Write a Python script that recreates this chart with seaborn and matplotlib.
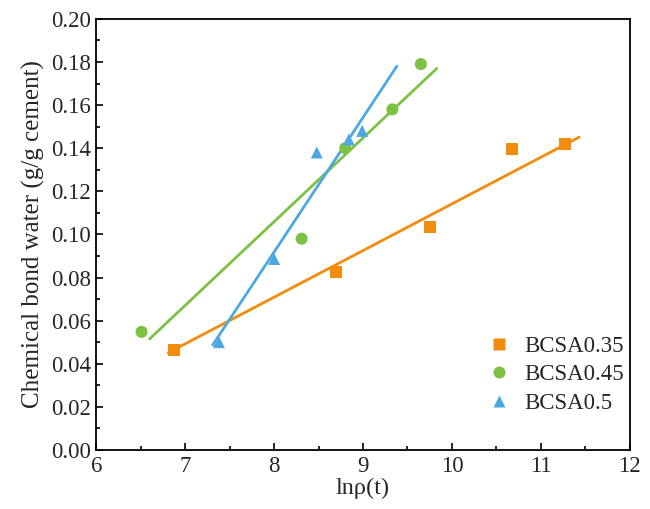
import pandas as pd
import matplotlib
matplotlib.use("Agg")
import matplotlib.pyplot as plt
from matplotlib.ticker import MultipleLocator, FormatStrFormatter
import seaborn as sns

# data
series_names = ["BCSA0.35", "BCSA0.45", "BCSA0.5"]
x_035 = [6.88, 8.70, 9.75, 10.68, 11.27]
y_035 = [0.0464, 0.0827, 0.1036, 0.1397, 0.142]
x_045 = [6.51, 8.31, 8.80, 9.33, 9.65]
y_045 = [0.0548, 0.098, 0.140, 0.158, 0.179]
x_05 = [7.38, 8.00, 8.48, 8.84, 8.99]
y_05 = [0.050, 0.0886, 0.138, 0.144, 0.148]

# end points of the fitted lines
fit_x_035 = [6.81, 11.43]
fit_y_035 = [0.0451, 0.1451]
fit_x_045 = [6.60, 9.83]
fit_y_045 = [0.0515, 0.177]
fit_x_05 = [7.31, 9.38]
fit_y_05 = [0.0487, 0.178]

colors = {"BCSA0.35": "#F28C0C", "BCSA0.45": "#7DC142", "BCSA0.5": "#4DA8E2"}
markers = {"BCSA0.35": "s", "BCSA0.45": "o", "BCSA0.5": "^"}

df = pd.DataFrame({
    "x": x_035 + x_045 + x_05,
    "y": y_035 + y_045 + y_05,
    "series": [series_names[0]] * 5 + [series_names[1]] * 5 + [series_names[2]] * 5,
})
fits = pd.DataFrame({
    "x": fit_x_035 + fit_x_045 + fit_x_05,
    "y": fit_y_035 + fit_y_045 + fit_y_05,
    "series": [series_names[0]] * 2 + [series_names[1]] * 2 + [series_names[2]] * 2,
})

sns.set_style("ticks")
plt.rcParams["font.family"] = ["Liberation Serif", "DejaVu Serif"]

fig = plt.figure(figsize=(6.5, 5.09), dpi=100)
ax = fig.add_axes([0.148, 0.116, 0.821, 0.847])

sns.lineplot(data=fits, x="x", y="y", hue="series", palette=colors, lw=2,
             ax=ax, legend=False)
sns.scatterplot(data=df, x="x", y="y", hue="series", style="series",
                palette=colors, markers=markers, s=75, edgecolor="none",
                ax=ax, zorder=3)

ax.set_xlim(6, 12)
ax.set_ylim(0, 0.20)
ax.xaxis.set_major_locator(MultipleLocator(1))
ax.xaxis.set_minor_locator(MultipleLocator(0.5))
ax.yaxis.set_major_locator(MultipleLocator(0.02))
ax.yaxis.set_minor_locator(MultipleLocator(0.01))
ax.yaxis.set_major_formatter(FormatStrFormatter("%.2f"))
ax.tick_params(which="both", direction="in", top=False, right=False,
               labelsize=16.5, width=1.2, color="black", pad=4)
ax.tick_params(which="major", length=5)
ax.tick_params(which="minor", length=3)
for sp in ax.spines.values():
    sp.set_visible(True)
    sp.set_linewidth(1.3)
    sp.set_color("black")

ax.set_xlabel("lnρ(t)", fontsize=17.5, labelpad=1)
ax.set_ylabel("Chemical bond water (g/g cement)", fontsize=18, labelpad=4)

ax.legend(loc="lower right", bbox_to_anchor=(1.013, 0.055), frameon=False,
          fontsize=16.5, handletextpad=0.12, labelspacing=0.32,
          borderaxespad=0.15)

fig.savefig("out.png", dpi=100)
